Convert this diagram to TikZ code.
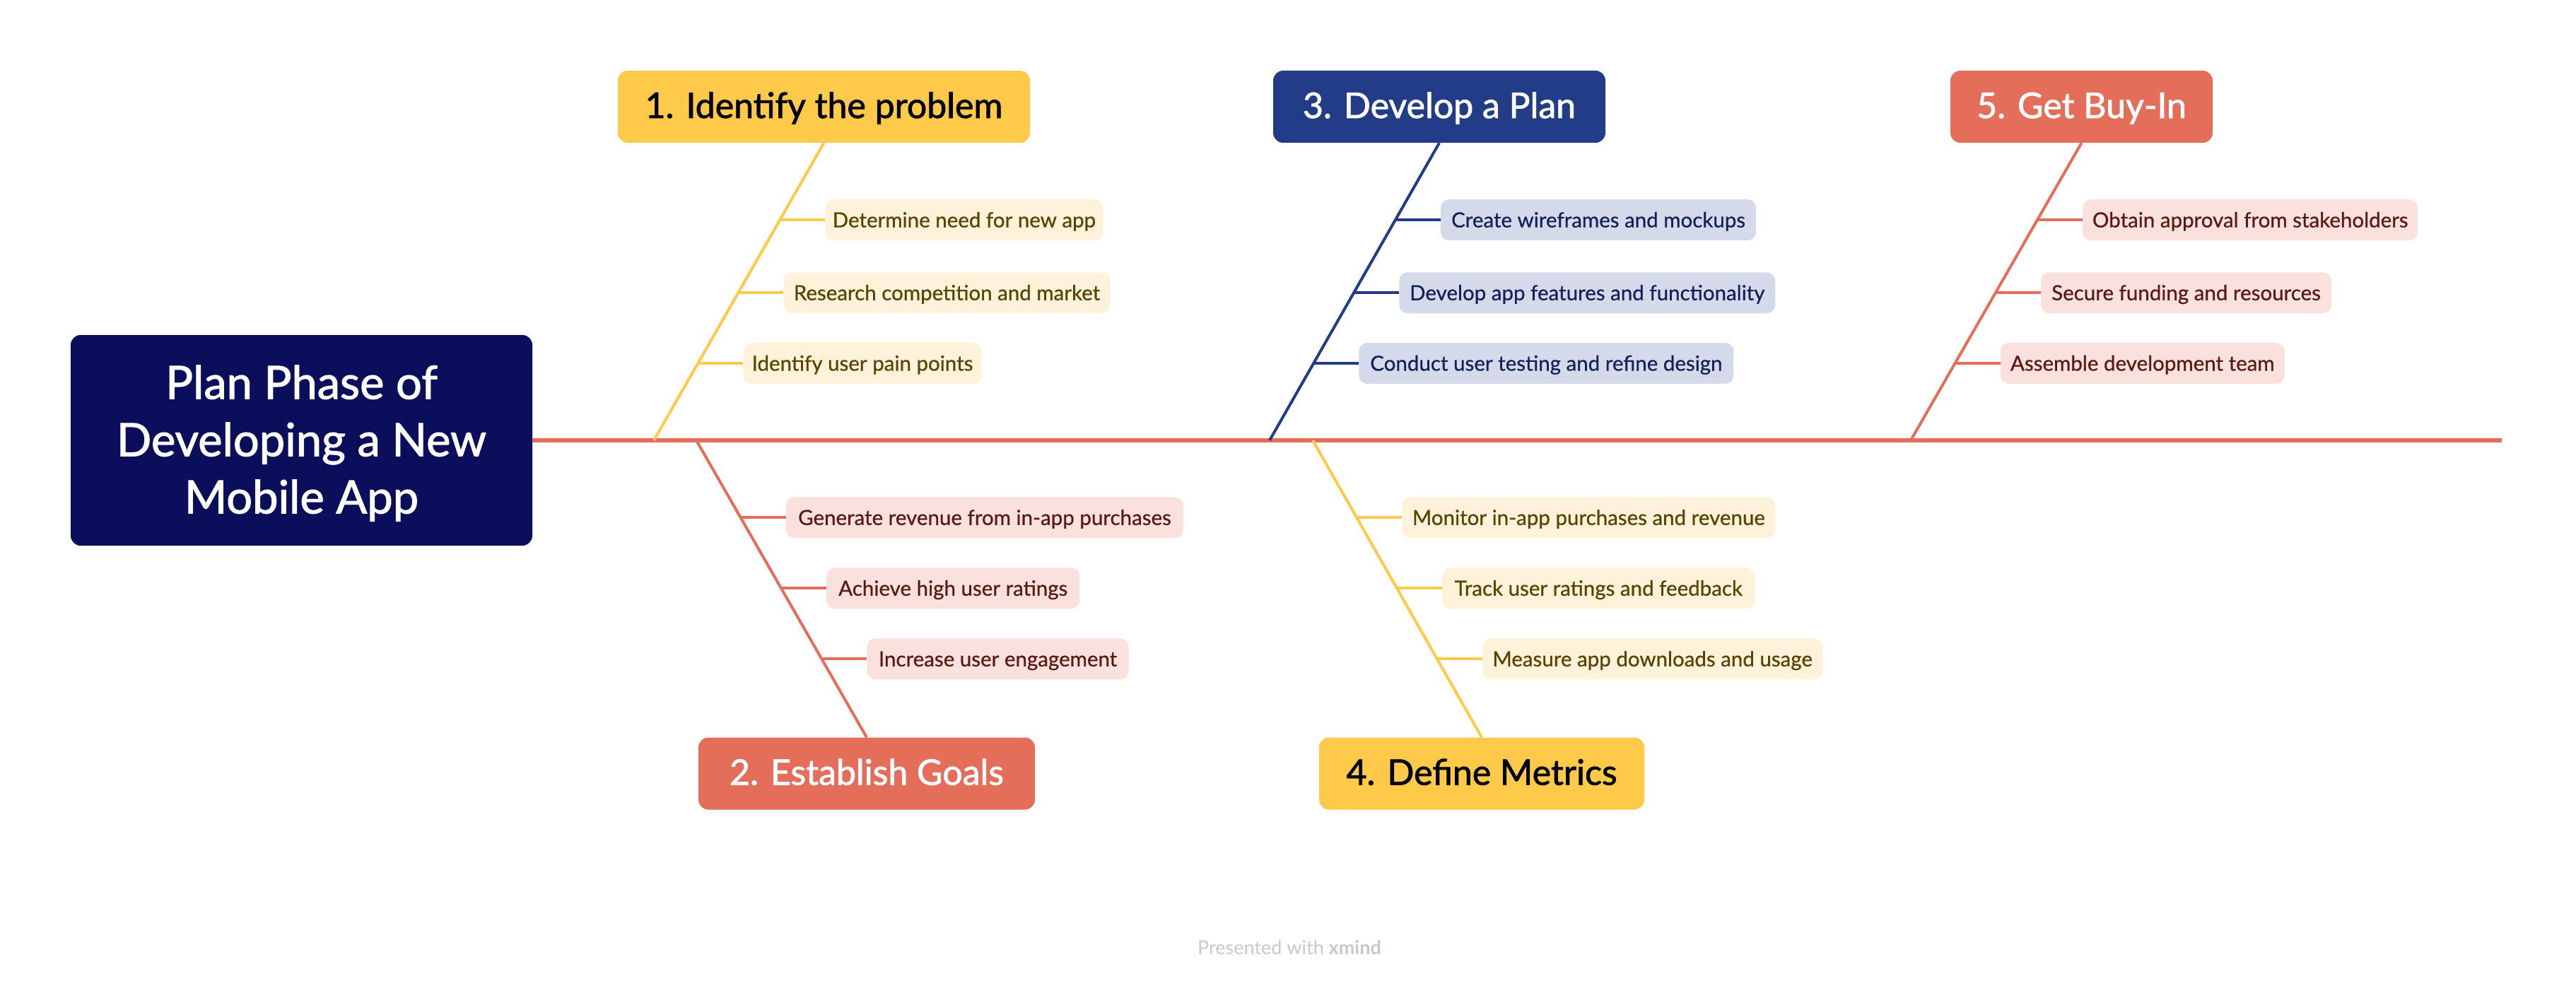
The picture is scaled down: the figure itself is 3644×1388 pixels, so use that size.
\documentclass[tikz,border=0pt]{standalone}
\usepackage{fontspec}
\setmainfont{Lato}
\newfontfamily\medfont{Lato}[FakeBold=1.6]
\newfontfamily\semifont{Lato}[FakeBold=0.6]
\usetikzlibrary{calc}
\definecolor{rootc}{HTML}{0B0F5B}
\definecolor{coral}{HTML}{E46E5A}
\definecolor{yell}{HTML}{FFC94A}
\definecolor{navy}{HTML}{223C88}
\definecolor{yellL}{HTML}{FFF2DB}
\definecolor{coralL}{HTML}{FAE1DD}
\definecolor{navyL}{HTML}{D5DAEA}
\definecolor{yellT}{HTML}{5A4300}
\definecolor{coralT}{HTML}{5A1A12}
\definecolor{navyT}{HTML}{14205A}
\definecolor{footc}{HTML}{C8C8C8}
\begin{document}
\begin{tikzpicture}[x=1pt,y=-1pt,
  rootbox/.style={fill=rootc, text=white, rounded corners=14pt, minimum width=653pt, minimum height=298pt, inner xsep=0pt, inner ysep=0pt, align=center, font=\medfont\fontsize{65pt}{81pt}\selectfont},
  titlebox/.style={rounded corners=14pt, minimum height=102pt, inner sep=0pt, text height=42pt, text depth=10pt, font=\medfont\fontsize{50pt}{60pt}\selectfont},
  subbox/.style={rounded corners=12pt, minimum height=58pt, inner sep=0pt, text height=25pt, text depth=4pt, font=\semifont\fontsize{29.5pt}{35pt}\selectfont},
  ysub/.style={subbox, fill=yellL, text=yellT},
  csub/.style={subbox, fill=coralL, text=coralT},
  nsub/.style={subbox, fill=navyL, text=navyT},
  bline/.style={line width=4pt},
]
\useasboundingbox (0,0) rectangle (3644,1388);

% root and spine
\node[rootbox] (root) at (426.5,623) {\rule{0pt}{56pt}Plan Phase of\\Developing a New\\Mobile App};
\coordinate (spineend) at (3539,623);
\draw[coral, line width=6pt] (root.east) -- (spineend);

% spine points
\coordinate (s1) at (925,623);
\coordinate (s2) at (985,623);
\coordinate (s3) at (1796,623);
\coordinate (s4) at (1857,623);
\coordinate (s5) at (2703,623);

% titles
\node[titlebox, fill=yell, text=black, minimum width=583pt] (t1) at (1165.5,151) {1. Identify the problem};
\node[titlebox, fill=coral, text=white, minimum width=476pt] (t2) at (1226,1094.5) {2. Establish Goals};
\node[titlebox, fill=navy, text=white, minimum width=470pt] (t3) at (2036,151) {3. Develop a Plan};
\node[titlebox, fill=yell, text=black, minimum width=460pt] (t4) at (2096,1094.5) {4. Define Metrics};
\node[titlebox, fill=coral, text=white, minimum width=371pt] (t5) at (2944.5,151) {5. Get Buy-In};

\draw[bline, yell] (s1) -- (t1.south);
\draw[bline, coral] (s2) -- (t2.north);
\draw[bline, navy] (s3) -- (t3.south);
\draw[bline, yell] (s4) -- (t4.north);
\draw[bline, coral] (s5) -- (t5.south);

% branch 1
\coordinate (p11) at ($(s1)!0.741!(t1.south)$);
\coordinate (p12) at ($(s1)!0.496!(t1.south)$);
\coordinate (p13) at ($(s1)!0.259!(t1.south)$);
\node[ysub, minimum width=393pt, anchor=west] (a11) at ([xshift=64pt]p11) {Determine need for new app};
\node[ysub, minimum width=462pt, anchor=west] (a12) at ([xshift=64pt]p12) {Research competition and market};
\node[ysub, minimum width=337pt, anchor=west] (a13) at ([xshift=64pt]p13) {Identify user pain points};
\draw[bline, yell] (p11) -- (a11.west);
\draw[bline, yell] (p12) -- (a12.west);
\draw[bline, yell] (p13) -- (a13.west);

% branch 2
\coordinate (p21) at ($(s2)!0.26!(t2.north)$);
\coordinate (p22) at ($(s2)!0.498!(t2.north)$);
\coordinate (p23) at ($(s2)!0.736!(t2.north)$);
\node[csub, minimum width=562pt, anchor=west] (a21) at ([xshift=64pt]p21) {Generate revenue from in-app purchases};
\node[csub, minimum width=358pt, anchor=west] (a22) at ([xshift=64pt]p22) {Achieve high user ratings};
\node[csub, minimum width=370pt, anchor=west] (a23) at ([xshift=64pt]p23) {Increase user engagement};
\draw[bline, coral] (p21) -- (a21.west);
\draw[bline, coral] (p22) -- (a22.west);
\draw[bline, coral] (p23) -- (a23.west);

% branch 3
\coordinate (p31) at ($(s3)!0.741!(t3.south)$);
\coordinate (p32) at ($(s3)!0.496!(t3.south)$);
\coordinate (p33) at ($(s3)!0.259!(t3.south)$);
\node[nsub, minimum width=446pt, anchor=west] (a31) at ([xshift=64pt]p31) {Create wireframes and mockups};
\node[nsub, minimum width=532pt, anchor=west] (a32) at ([xshift=64pt]p32) {Develop app features and functionality};
\node[nsub, minimum width=530pt, anchor=west] (a33) at ([xshift=64pt]p33) {Conduct user testing and refine design};
\draw[bline, navy] (p31) -- (a31.west);
\draw[bline, navy] (p32) -- (a32.west);
\draw[bline, navy] (p33) -- (a33.west);

% branch 4
\coordinate (p41) at ($(s4)!0.26!(t4.north)$);
\coordinate (p42) at ($(s4)!0.498!(t4.north)$);
\coordinate (p43) at ($(s4)!0.736!(t4.north)$);
\node[ysub, minimum width=528pt, anchor=west] (a41) at ([xshift=64pt]p41) {Monitor in-app purchases and revenue};
\node[ysub, minimum width=442pt, anchor=west] (a42) at ([xshift=64pt]p42) {Track user ratings and feedback};
\node[ysub, minimum width=481pt, anchor=west] (a43) at ([xshift=64pt]p43) {Measure app downloads and usage};
\draw[bline, yell] (p41) -- (a41.west);
\draw[bline, yell] (p42) -- (a42.west);
\draw[bline, yell] (p43) -- (a43.west);

% branch 5
\coordinate (p51) at ($(s5)!0.741!(t5.south)$);
\coordinate (p52) at ($(s5)!0.496!(t5.south)$);
\coordinate (p53) at ($(s5)!0.259!(t5.south)$);
\node[csub, minimum width=474pt, anchor=west] (a51) at ([xshift=64pt]p51) {Obtain approval from stakeholders};
\node[csub, minimum width=411pt, anchor=west] (a52) at ([xshift=64pt]p52) {Secure funding and resources};
\node[csub, minimum width=402pt, anchor=west] (a53) at ([xshift=64pt]p53) {Assemble development team};
\draw[bline, coral] (p51) -- (a51.west);
\draw[bline, coral] (p52) -- (a52.west);
\draw[bline, coral] (p53) -- (a53.west);

% footer
\node[text=footc, font=\fontsize{27pt}{31pt}\selectfont] (foot) at (1824,1341) {Presented with \textbf{xmind}};
\end{tikzpicture}
\end{document}
